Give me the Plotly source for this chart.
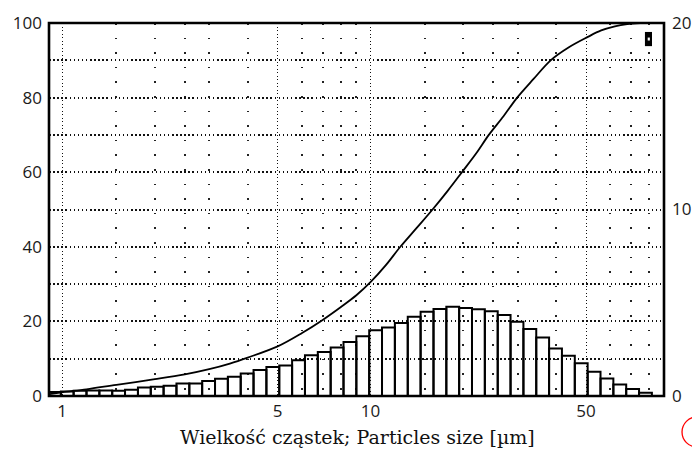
import math
import plotly.graph_objects as go

# ---------------- data ----------------
# particle size class edges [µm] (24 classes per decade)
bin_edges = [0.900, 0.991, 1.090, 1.200, 1.321, 1.454, 1.600, 1.762, 1.939, 2.134,
             2.349, 2.586, 2.846, 3.133, 3.448, 3.795, 4.177, 4.598, 5.061, 5.571,
             6.132, 6.749, 7.429, 8.177, 9.000, 9.906, 10.90, 12.00, 13.21, 14.54,
             16.01, 17.62, 19.39, 21.34, 23.49, 25.86, 28.46, 31.33, 34.48, 37.95,
             41.77, 45.98, 50.61, 55.71, 61.32, 67.49, 74.29, 81.77]
# frequency per class [%] (right axis)
freq = [0.22, 0.24, 0.28, 0.30, 0.30, 0.28, 0.33, 0.46, 0.50, 0.55,
        0.67, 0.67, 0.80, 0.92, 1.03, 1.20, 1.40, 1.55, 1.64, 1.92,
        2.18, 2.36, 2.60, 2.90, 3.20, 3.53, 3.67, 3.92, 4.25, 4.52,
        4.66, 4.78, 4.72, 4.65, 4.55, 4.34, 3.98, 3.59, 3.14, 2.55,
        2.16, 1.75, 1.30, 0.94, 0.62, 0.37, 0.18]
# cumulative curve (left axis)
cum_size = [0.91, 1.0, 1.2, 1.5, 2.0, 2.5, 3.0, 3.5, 4.0, 5.0, 6.0, 7.0, 8.0, 9.0,
            10.0, 11.2, 12.5, 14.1, 15.9, 17.8, 19.8, 22.0, 24.2, 27.0, 29.9,
            33.8, 38.4, 44.0, 50.5, 56.0, 62.0, 68.0, 75.0]
cum_pct = [0.5, 1.0, 1.8, 3.0, 4.5, 5.8, 7.2, 8.7, 10.3, 13.3, 16.9, 20.4, 23.8, 27.0,
           30.5, 35.0, 40.0, 45.0, 50.0, 55.0, 60.0, 65.0, 70.0, 75.0, 80.0,
           85.0, 90.0, 93.5, 96.2, 98.0, 99.1, 99.7, 100.0]

x_ticks = [1, 5, 10, 50]
x_minor = [1.5, 2, 2.5, 3, 4, 6, 7, 8, 9, 15, 20, 25, 30, 40, 60, 70, 80]
y_ticks = [0, 20, 40, 60, 80, 100]
y2_ticks = [0, 10, 20]
x_title = "Wielkość cząstek; Particles size [µm]"

# ---------------- figure ----------------
bx, by = [], []
for i, v in enumerate(freq):
    lo, hi = bin_edges[i], bin_edges[i + 1]
    bx += [lo, lo, hi, hi, None]
    by += [0, v, v, 0, None]

fig = go.Figure()
fig.add_trace(go.Scatter(x=bx, y=by, mode="lines", yaxis="y2",
                         line=dict(color="black", width=2), hoverinfo="skip",
                         showlegend=False))
fig.add_trace(go.Scatter(x=cum_size, y=cum_pct, mode="lines", line_shape="spline",
                         line=dict(color="black", width=1.8), showlegend=False))

tick_font = dict(family="Open Sans, Noto Sans, sans-serif", size=17, color="#1a1a1a")

fig.update_layout(
    width=692, height=449,
    margin=dict(l=49, r=28, t=23, b=53),
    paper_bgcolor="white", plot_bgcolor="white",
    xaxis=dict(type="log", range=[math.log10(0.907), math.log10(89.5)],
               tickmode="array", tickvals=x_ticks, ticktext=[str(t) for t in x_ticks],
               showgrid=True, gridcolor="#111", gridwidth=1.3, griddash="1.3px,2.2px",
               minor=dict(tickmode="array", tickvals=x_minor, showgrid=True,
                          gridcolor="#222", gridwidth=1.6, griddash="1.6px,13px"),
               ticks="", tickfont=tick_font, zeroline=False, showline=False,
               ticklabelstandoff=3, automargin=False),
    yaxis=dict(range=[0, 100], tickvals=y_ticks, showgrid=True, gridcolor="#111",
               gridwidth=1.5, griddash="1.5px,2.6px",
               minor=dict(dtick=10, showgrid=True, gridcolor="#111", gridwidth=1.5,
                          griddash="1.5px,2.6px"),
               ticks="", tickfont=tick_font, zeroline=False, showline=False,
               ticklabelstandoff=6, automargin=False),
    yaxis2=dict(range=[0, 20], tickvals=y2_ticks, overlaying="y", side="right",
                showgrid=False, ticks="", tickfont=tick_font, zeroline=False,
                showline=False, ticklabelstandoff=7, automargin=False),
    annotations=[dict(text=x_title, xref="paper", yref="paper", x=0.502, y=-0.11,
                      xanchor="center", yanchor="middle", showarrow=False,
                      font=dict(family="DejaVu Serif, Liberation Serif, serif",
                                size=19, color="#111"))],
    shapes=[
        dict(type="rect", xref="paper", yref="paper", x0=0, x1=1, y0=0, y1=1,
             line=dict(color="black", width=2.6), layer="above"),
        dict(type="rect", xref="paper", yref="paper", x0=0.969, x1=0.9805,
             y0=0.938, y1=0.976, fillcolor="black", line=dict(width=0)),
        dict(type="rect", xref="paper", yref="paper", x0=0.9735, x1=0.977,
             y0=0.953, y1=0.961, fillcolor="white", line=dict(width=0)),
        dict(type="circle", xref="paper", yref="paper", x0=1.0293, x1=1.078,
             y0=-0.1367, y1=-0.0563, line=dict(color="red", width=1.3)),
    ],
)

fig.write_html(
    "out.html",
    config={"displayModeBar": False},
    post_script="document.body.style.margin='0';document.body.style.overflow='hidden';",
)
